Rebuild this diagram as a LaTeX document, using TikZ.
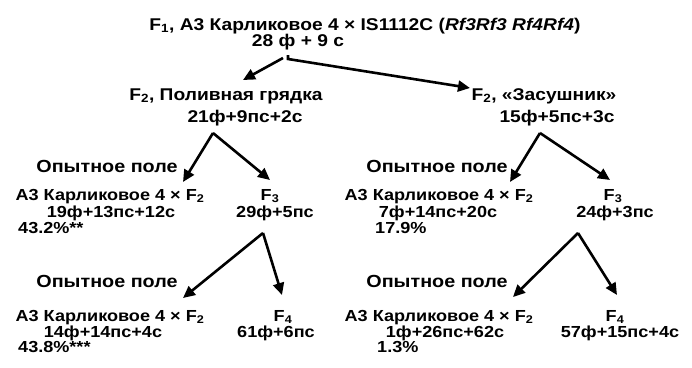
\documentclass[tikz,border=0pt]{standalone}
\usepackage{fontspec}
\setmainfont{Liberation Sans}[FakeStretch=1.13]
\usetikzlibrary{arrows.meta}
\tikzset{
  % text styles
  head/.style={font=\bfseries\fontsize{17}{19}\selectfont,inner sep=0pt,anchor=base},
  field/.style={font=\bfseries\fontsize{17.5}{20}\selectfont,inner sep=0pt,anchor=base},
  line/.style={font=\bfseries\fontsize{16}{18}\selectfont,inner sep=0pt,anchor=base},
  pct/.style={line,anchor=base west},
  % arrow style
  cross/.style={-{Triangle[length=12pt,width=11pt]},line width=2.6pt,line join=miter},
}
\begin{document}
\begin{tikzpicture}[x=1pt,y=-1pt]
  \useasboundingbox (0,0) rectangle (692,367);
  % F1
  \node[head] (f1) at (365,30) {F\textsubscript{1}, А3 Карликовое 4 × IS1112C (\textit{Rf3Rf3 Rf4Rf4})};
  \node[head] (n1) at (298,46) {28 ф + 9 с};
  % F2
  \node[head] (f2a) at (226,100) {F\textsubscript{2}, Поливная грядка};
  \node[head] (n2a) at (245,122) {21ф+9пс+2с};
  \node[head] (f2b) at (544,100) {F\textsubscript{2}, «Засушник»};
  \node[head] (n2b) at (557,122) {15ф+5пс+3с};
  % left branch
  \node[field] (pa) at (107,172) {Опытное поле};
  \node[line] (ba) at (110,200) {А3 Карликовое 4 × F\textsubscript{2}};
  \node[line] (ra) at (111,217) {19ф+13пс+12с};
  \node[pct] (qa) at (18,233) {43.2\%**};
  \node[line] (f3a) at (270,200) {F\textsubscript{3}};
  \node[line] (n3a) at (275,217) {29ф+5пс};
  \node[field] (pc) at (107,287) {Опытное поле};
  \node[line] (bc) at (110,321) {А3 Карликовое 4 × F\textsubscript{2}};
  \node[line] (rc) at (103,337) {14ф+14пс+4с};
  \node[pct] (qc) at (18,352) {43.8\%***};
  \node[line] (f4a) at (283,321) {F\textsubscript{4}};
  \node[line] (n4a) at (276,337) {61ф+6пс};
  % right branch
  \node[field] (pb) at (437,172) {Опытное поле};
  \node[line] (bb) at (439,200) {А3 Карликовое 4 × F\textsubscript{2}};
  \node[line] (rb) at (438,217) {7ф+14пс+20с};
  \node[pct] (qb) at (375,233) {17.9\%};
  \node[line] (f3b) at (613,200) {F\textsubscript{3}};
  \node[line] (n3b) at (615,217) {24ф+3пс};
  \node[field] (pd) at (437,287) {Опытное поле};
  \node[line] (bd) at (439,321) {А3 Карликовое 4 × F\textsubscript{2}};
  \node[line] (rd) at (445,337) {1ф+26пс+62с};
  \node[pct] (qd) at (377,352) {1.3\%};
  \node[line] (f4b) at (615,321) {F\textsubscript{4}};
  \node[line] (n4b) at (620,337) {57ф+15пс+4с};
  % arrow ends
  \coordinate (s0) at (283,58);
  \coordinate (c0) at (288,55);
  \coordinate (t0a) at (243,80);
  \coordinate (t0b) at (470,88);
  \coordinate (sa) at (213,133);
  \coordinate (taa) at (183,182);
  \coordinate (tab) at (270,180);
  \coordinate (sc) at (263,233);
  \coordinate (tca) at (183,298);
  \coordinate (tcb) at (282,295);
  \coordinate (sb) at (540,133);
  \coordinate (tba) at (510,182);
  \coordinate (tbb) at (610,180);
  \coordinate (sd) at (578,233);
  \coordinate (tda) at (513,297);
  \coordinate (tdb) at (617,295);
  % arrows
  \draw[cross] (s0) -- (t0a);
  \draw[cross] (c0) -- ++(0,4) -- (t0b);
  \draw[cross] (sa) -- (taa);
  \draw[cross] (sa) -- (tab);
  \draw[cross] (sc) -- (tca);
  \draw[cross] (sc) -- (tcb);
  \draw[cross] (sb) -- (tba);
  \draw[cross] (sb) -- (tbb);
  \draw[cross] (sd) -- (tda);
  \draw[cross] (sd) -- (tdb);
\end{tikzpicture}
\end{document}
